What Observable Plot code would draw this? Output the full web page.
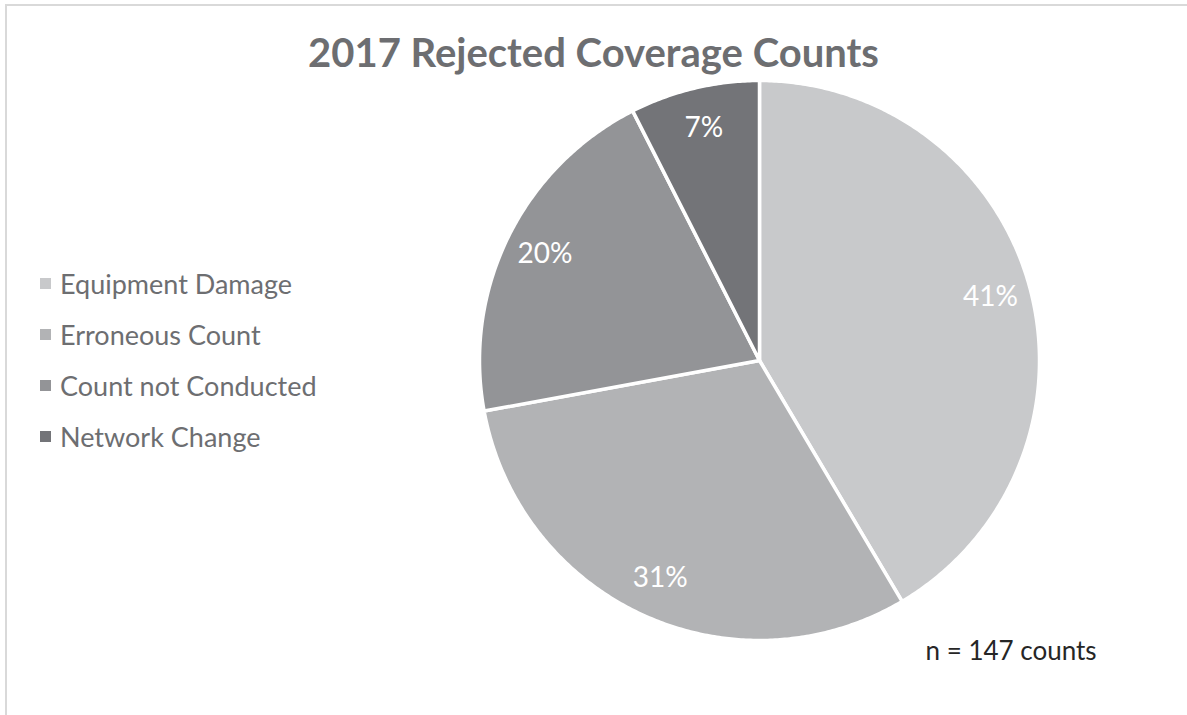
<!DOCTYPE html>
<html>
<head>
<meta charset="utf-8">
<script src="https://cdn.jsdelivr.net/npm/d3@7"></script>
<script src="https://cdn.jsdelivr.net/npm/@observablehq/plot@0.6"></script>
<style>
  html, body { margin: 0; padding: 0; background: #fff; }
  #wrap { position: relative; width: 1187px; height: 715px; overflow: hidden; font-family: Lato, "Open Sans", sans-serif; }
  #frame { position: absolute; left: 5px; top: 4px; width: 1200px; height: 720px; border-left: 2px solid #d9d9d9; border-top: 2px solid #d9d9d9; pointer-events: none; }
  #title { height: 75px; box-sizing: border-box; padding-top: 32px; text-align: center; font: bold 40px/1 Lato, sans-serif; color: #6d6e71; }
  #legend { position: absolute; left: 40px; top: 258px; }
  .row { height: 51px; display: flex; align-items: center; font: 27px Lato, sans-serif; color: #6d6e71; }
  .sw { width: 11px; height: 11px; margin-right: 9px; }
</style>
</head>
<body>
<div id="wrap">
  <div id="title"></div>
  <div id="chart"></div>
  <div id="legend"></div>
  <div id="frame"></div>
</div>
<script>
const titleText = "2017 Rejected Coverage Counts";
const categories = ["Equipment Damage", "Erroneous Count", "Count not Conducted", "Network Change"];
const counts = [61, 45, 30, 11];
const percentLabels = ["41%", "31%", "20%", "7%"];
const colors = ["#c8c9cb", "#b2b3b5", "#939497", "#737478"];
const noteText = "n = 147 counts";

document.getElementById("title").textContent = titleText;

const arcs = d3.pie().sort(null).value(d => d)(counts);
function ring(a0, a1) {
  const n = Math.max(2, Math.ceil((a1 - a0) / (Math.PI / 360)));
  const pts = [[0, 0]];
  for (let i = 0; i <= n; i++) {
    const a = a0 + (a1 - a0) * i / n;
    pts.push([Math.sin(a), -Math.cos(a)]);
  }
  pts.push([0, 0]);
  return pts;
}
const slices = arcs.map((a, i) => ({
  type: "Feature",
  properties: { category: categories[i], label: percentLabels[i], mid: (a.startAngle + a.endAngle) / 2 },
  geometry: { type: "Polygon", coordinates: [ring(a.startAngle, a.endAngle)] }
}));
const circle = { type: "Feature", properties: {}, geometry: { type: "Polygon", coordinates: [ring(0, 2 * Math.PI).slice(1, -1).concat([[0, -1]])] } };

const labelRadius = 0.855;
const chart = Plot.plot({
  width: 1187,
  height: 640,
  marginLeft: 479,
  marginRight: 148,
  marginTop: 5,
  marginBottom: 75,
  projection: { type: "identity", domain: circle },
  color: { domain: categories, range: colors },
  style: { fontFamily: "Lato, sans-serif", background: "transparent" },
  marks: [
    Plot.geo(slices, { fill: d => d.properties.category, stroke: "white", strokeWidth: 3.5 }),
    Plot.text(slices, {
      x: d => labelRadius * Math.sin(d.properties.mid),
      y: d => -labelRadius * Math.cos(d.properties.mid),
      text: d => d.properties.label,
      fill: "white", fontSize: 28
    }),
    Plot.text([noteText], { frameAnchor: "bottom-left", dx: 446, dy: 19, textAnchor: "start", fill: "#262626", fontSize: 26 })
  ]
});
document.getElementById("chart").appendChild(chart);

const color = chart.scale("color");
const legend = document.getElementById("legend");
categories.forEach(c => {
  const row = document.createElement("div");
  row.className = "row";
  const sw = document.createElement("div");
  sw.className = "sw";
  sw.style.background = color.apply(c);
  const t = document.createElement("span");
  t.textContent = c;
  row.appendChild(sw); row.appendChild(t);
  legend.appendChild(row);
});
</script>
</body>
</html>
